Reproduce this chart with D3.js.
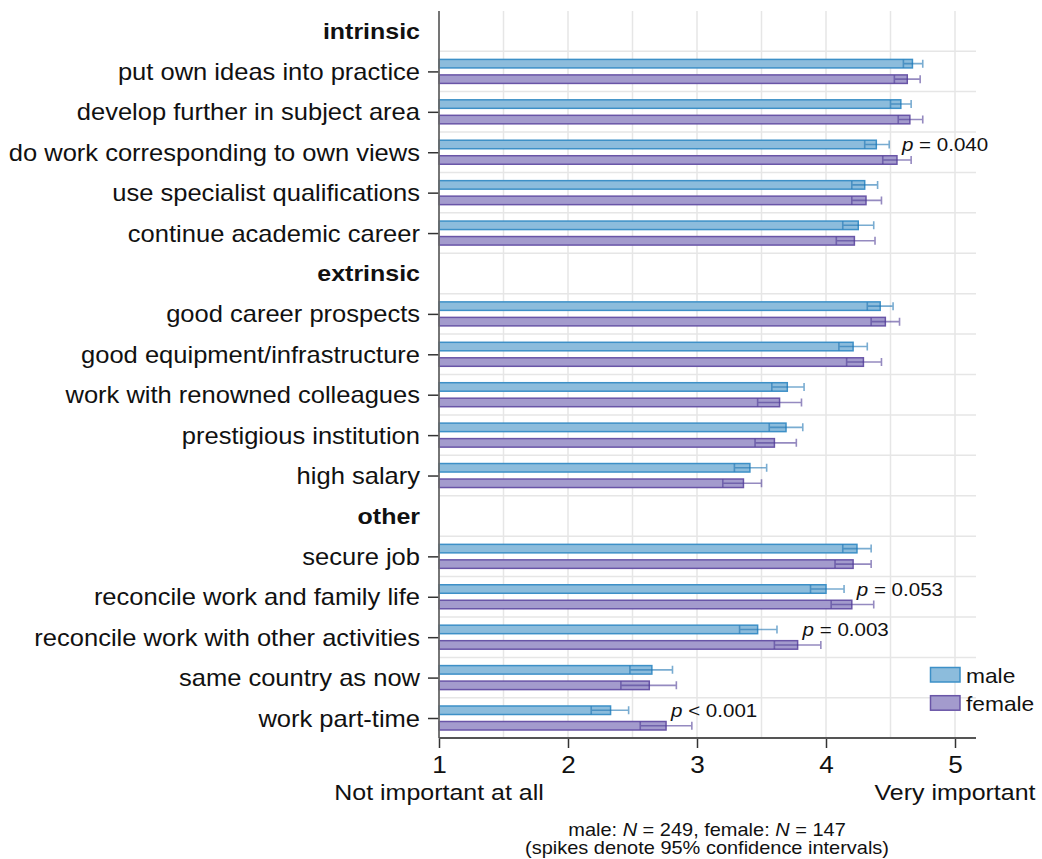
<!DOCTYPE html>
<html>
<head>
<meta charset="utf-8">
<script src="https://cdn.jsdelivr.net/npm/d3@7"></script>
<style>
  html, body { margin: 0; padding: 0; background: #fff; }
  svg { display: block; font-family: "Liberation Sans", Arial, sans-serif; }
</style>
</head>
<body>
<svg id="chart" width="1042" height="859"></svg>
<script>
// Job attribute importance by gender: means with 95% confidence intervals
const groupNames = ["intrinsic", "extrinsic", "other"];
const itemLabels = [
  "put own ideas into practice",
  "develop further in subject area",
  "do work corresponding to own views",
  "use specialist qualifications",
  "continue academic career",
  "good career prospects",
  "good equipment/infrastructure",
  "work with renowned colleagues",
  "prestigious institution",
  "high salary",
  "secure job",
  "reconcile work and family life",
  "reconcile work with other activities",
  "same country as now",
  "work part-time"
];
const itemGroup = [0, 0, 0, 0, 0, 1, 1, 1, 1, 1, 2, 2, 2, 2, 2];

const maleMean = [4.67, 4.58, 4.39, 4.30, 4.25, 4.42, 4.21, 3.70, 3.69, 3.41, 4.24, 4.00, 3.47, 2.65, 2.33];
const maleLow  = [4.60, 4.50, 4.30, 4.20, 4.13, 4.32, 4.10, 3.58, 3.56, 3.29, 4.13, 3.88, 3.33, 2.48, 2.18];
const maleHigh = [4.75, 4.66, 4.49, 4.40, 4.37, 4.52, 4.32, 3.83, 3.82, 3.54, 4.35, 4.14, 3.62, 2.81, 2.47];

const femaleMean = [4.63, 4.65, 4.55, 4.31, 4.22, 4.46, 4.29, 3.64, 3.60, 3.36, 4.21, 4.20, 3.78, 2.63, 2.76];
const femaleLow  = [4.53, 4.56, 4.44, 4.20, 4.08, 4.35, 4.16, 3.47, 3.45, 3.20, 4.07, 4.04, 3.60, 2.41, 2.56];
const femaleHigh = [4.73, 4.75, 4.66, 4.43, 4.38, 4.57, 4.43, 3.81, 3.77, 3.50, 4.35, 4.37, 3.96, 2.84, 2.96];

// significance notes (test of gender difference), empty where none is shown
const pNotes = ["", "", "= 0.040", "", "", "", "", "", "", "", "", "= 0.053", "= 0.003", "", "< 0.001"];

const xTickValues = [1, 2, 3, 4, 5];
const xEndLabels = ["Not important at all", "Very important"];
const seriesNames = ["male", "female"];
const sampleSizes = [249, 147];

// ---------- layout ----------
const SX = 1.11;                     // horizontal stretch of the lettering
const FONT = "'Liberation Sans', Arial, sans-serif";
const colors = {
  male:   { fill: "#8cbcdc", stroke: "#3d90c7", spike: "#1f74b3" },
  female: { fill: "#a39bcd", stroke: "#6955a7", spike: "#4e3c96" }
};

const svg = d3.select("#chart");
svg.append("rect").attr("width", 1042).attr("height", 859).attr("fill", "#fff");

// rows: a header row for each group followed by its items
const rows = [];
groupNames.forEach((g, gi) => {
  rows.push({ key: "h" + gi, header: true, label: g });
  itemLabels.forEach((lab, i) => {
    if (itemGroup[i] === gi) rows.push({ key: "i" + i, header: false, label: lab, idx: i });
  });
});

const plotLeft = 439, plotRight = 976, plotTop = 11, plotBottom = 738;
const x = d3.scaleLinear().domain([1, 5]).range([plotLeft, 955]);
const y = d3.scalePoint().domain(rows.map(r => r.key)).range([31, 718]);
const step = y.step();

// ---------- gridlines ----------
const grid = svg.append("g").attr("stroke", "#e6e6e6").attr("stroke-width", 1.5);
grid.selectAll("line.v").data(d3.range(1.5, 5.01, 0.5)).join("line")
  .attr("class", "v")
  .attr("x1", d => x(d)).attr("x2", d => x(d))
  .attr("y1", plotTop).attr("y2", plotBottom);
grid.selectAll("line.h").data(rows.slice(1)).join("line")
  .attr("class", "h")
  .attr("x1", plotLeft).attr("x2", plotRight)
  .attr("y1", d => y(d.key) - step / 2).attr("y2", d => y(d.key) - step / 2);

// ---------- bars ----------
const items = rows.filter(r => !r.header);
const series = [
  { name: "male",   mean: maleMean,   lo: maleLow,   hi: maleHigh,   off: -12.0, c: colors.male },
  { name: "female", mean: femaleMean, lo: femaleLow, hi: femaleHigh, off: 3.5,   c: colors.female }
];
const barH = 8.5;

series.forEach(s => {
  const g = svg.append("g");
  g.selectAll("rect").data(items).join("rect")
    .attr("x", x(1))
    .attr("y", d => y(d.key) + s.off)
    .attr("width", d => x(s.mean[d.idx]) - x(1))
    .attr("height", barH)
    .attr("fill", s.c.fill)
    .attr("stroke", s.c.stroke)
    .attr("stroke-width", 1.5);
});

// confidence-interval spikes
series.forEach(s => {
  const g = svg.append("g");
  g.selectAll("path").data(items).join("path")
    .attr("d", d => {
      const cy = y(d.key) + s.off + barH / 2;
      const a = x(s.lo[d.idx]), b = x(s.hi[d.idx]);
      return `M${a},${cy - 4}V${cy + 4}M${a},${cy}H${b}M${b},${cy - 4}V${cy + 4}`;
    })
    .attr("fill", "none")
    .attr("stroke", s.c.spike)
    .attr("stroke-opacity", 0.6)
    .attr("stroke-width", 1.6);
});

// ---------- p-value notes ----------
const notes = svg.append("g").attr("font-family", FONT).attr("font-size", 18.5).attr("fill", "#111");
items.filter(d => pNotes[d.idx]).forEach(d => {
  const cy = y(d.key) + series[0].off + barH / 2;
  const t = notes.append("text")
    .attr("transform", `translate(${x(femaleMean[d.idx]) + 5},${cy + 6.5}) scale(${SX},1)`);
  t.append("tspan").attr("font-style", "italic").text("p");
  t.append("tspan").text(" " + pNotes[d.idx]);
});

// ---------- y axis ----------
const yAxis = d3.axisLeft(y)
  .tickValues(items.map(d => d.key))
  .tickSize(11)
  .tickPadding(8)
  .tickFormat(k => rows.find(r => r.key === k).label);
const gy = svg.append("g").attr("transform", `translate(${plotLeft},0)`).call(yAxis);
gy.select(".domain").remove();
gy.selectAll(".tick line").attr("stroke", "#333").attr("stroke-width", 1.5);
gy.selectAll(".tick text")
  .attr("font-family", FONT).attr("font-size", 23).attr("fill", "#111")
  .attr("x", -19 / SX).attr("dy", "0.35em")
  .attr("transform", `scale(${SX},1)`);

// group headers
svg.append("g").selectAll("text").data(rows.filter(r => r.header)).join("text")
  .attr("transform", d => `translate(${plotLeft - 19},${y(d.key) + 8}) scale(${SX},1)`)
  .attr("text-anchor", "end")
  .attr("font-family", FONT).attr("font-size", 22.5).attr("font-weight", "bold").attr("fill", "#111")
  .text(d => d.label);

svg.append("line")
  .attr("x1", plotLeft).attr("x2", plotLeft).attr("y1", plotTop).attr("y2", plotBottom)
  .attr("stroke", "#666").attr("stroke-width", 1.8);

// ---------- x axis ----------
const xAxis = d3.axisBottom(x).tickValues(xTickValues).tickSize(10).tickPadding(8).tickFormat(d3.format("d"));
const gx = svg.append("g").attr("transform", `translate(0,${plotBottom})`).call(xAxis);
gx.select(".domain").remove();
gx.selectAll(".tick line").attr("stroke", "#333").attr("stroke-width", 1.5);
gx.selectAll(".tick text")
  .attr("font-family", FONT).attr("font-size", 23.5).attr("fill", "#111")
  .attr("transform", `scale(${SX},1)`);
svg.append("line")
  .attr("x1", plotLeft).attr("x2", plotRight).attr("y1", plotBottom).attr("y2", plotBottom)
  .attr("stroke", "#555").attr("stroke-width", 1.8);

svg.append("g").selectAll("text").data(xEndLabels).join("text")
  .attr("transform", (d, i) => `translate(${x(i === 0 ? 1 : 5)},800) scale(${SX},1)`)
  .attr("text-anchor", "middle")
  .attr("font-family", FONT).attr("font-size", 22.5).attr("fill", "#111")
  .text(d => d);

// ---------- legend ----------
const legend = svg.append("g");
series.forEach((s, i) => {
  const ly = 667.5 + i * 28.2;
  legend.append("rect")
    .attr("x", 930.5).attr("y", ly).attr("width", 29.5).attr("height", 14.5)
    .attr("fill", s.c.fill).attr("stroke", s.c.stroke).attr("stroke-width", 1.5);
  legend.append("text")
    .attr("transform", `translate(966,${ly + 15.5}) scale(${SX},1)`)
    .attr("font-family", FONT).attr("font-size", 20.5).attr("fill", "#111")
    .text(s.name);
});

// ---------- note ----------
const note = svg.append("g").attr("font-family", FONT).attr("font-size", 18).attr("fill", "#111")
  .attr("text-anchor", "middle");
const l1 = note.append("text").attr("transform", `translate(707,836) scale(${SX},1)`);
seriesNames.forEach((nm, i) => {
  l1.append("tspan").text((i ? ", " : "") + nm + ": ");
  l1.append("tspan").attr("font-style", "italic").text("N");
  l1.append("tspan").text(" = " + sampleSizes[i]);
});
note.append("text").attr("transform", `translate(707,854) scale(${SX},1)`)
  .text("(spikes denote 95% confidence intervals)");
</script>
</body>
</html>
